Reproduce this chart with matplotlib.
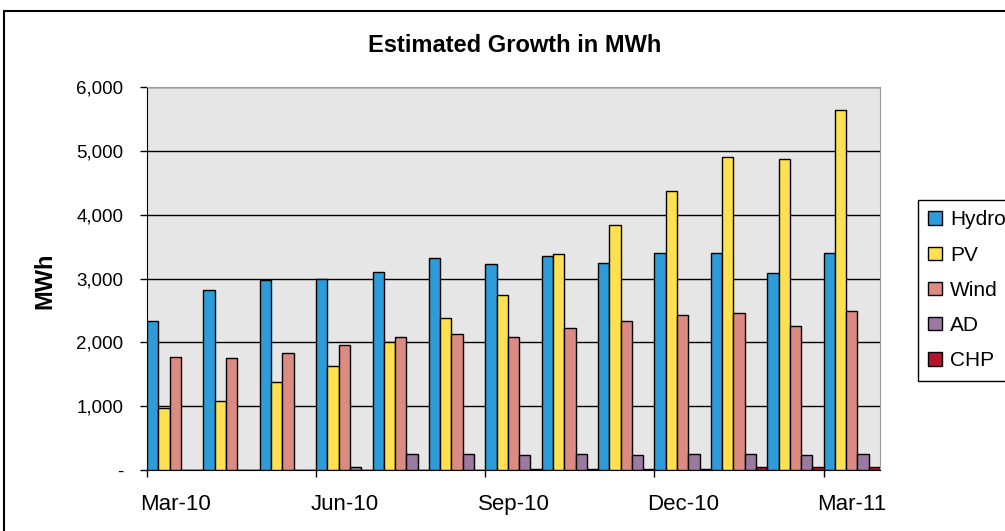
import numpy as np
import matplotlib
matplotlib.use("Agg")
import matplotlib.pyplot as plt
from matplotlib.patches import Rectangle
from matplotlib.ticker import FuncFormatter

# data (MWh per month)
months = ["Mar-10", "Apr-10", "May-10", "Jun-10", "Jul-10", "Aug-10", "Sep-10",
          "Oct-10", "Nov-10", "Dec-10", "Jan-11", "Feb-11", "Mar-11"]
hydro = [2340, 2820, 2975, 3000, 3100, 3325, 3230, 3355, 3250, 3400, 3400, 3080, 3400]
pv = [970, 1085, 1375, 1625, 2000, 2385, 2745, 3380, 3840, 4375, 4900, 4875, 5640]
wind = [1775, 1750, 1830, 1960, 2080, 2135, 2080, 2232, 2338, 2435, 2465, 2262, 2490]
ad = [0, 0, 0, 50, 250, 250, 230, 250, 230, 250, 250, 230, 250]
chp = [0, 0, 0, 0, 0, 0, 15, 15, 15, 15, 50, 50, 50]

series = ["Hydro", "PV", "Wind", "AD", "CHP"]
colors = ["#2f9cda", "#fee050", "#dc8b82", "#9c79a0", "#b41430"]

plt.rcParams['font.family'] = ['Liberation Sans', 'DejaVu Sans']

fig = plt.figure(figsize=(10.05, 5.31), dpi=100)
ax = fig.add_axes([147 / 1005, 1 - 470 / 531, (880 - 147) / 1005, (470 - 87) / 531])

# Plot Data
x = np.arange(len(months))
w = 0.2
for k, (name, vals, col) in enumerate(zip(series, [hydro, pv, wind, ad, chp], colors)):
    ax.bar(x + k * w, vals, width=w, align='edge', color=col, edgecolor='black',
           linewidth=1, label=name, zorder=3)

# General Parameters
ax.set_facecolor('#e6e6e6')
ax.set_xlim(0, len(months))
ax.set_ylim(0, 6000)
for s in ['top', 'right']:
    ax.spines[s].set_color('#9a9a9a')
for s in ['left', 'bottom']:
    ax.spines[s].set_color('black')
ax.yaxis.grid(True, color='black', lw=1, zorder=1)

# X Axis
ax.set_xticks(np.arange(0, len(months) + 1, 3))
ax.set_xticklabels([])
ax.tick_params(axis='x', which='major', direction='out', length=5, width=1)
ax.set_xticks(x[::3] + 0.5, minor=True)
ax.set_xticklabels(months[::3], minor=True, fontsize=16)
ax.tick_params(axis='x', which='minor', length=0, pad=17)

# Y Axis
ax.set_yticks(np.arange(0, 6001, 1000))
ax.yaxis.set_major_formatter(FuncFormatter(lambda v, p: '-' if v == 0 else f'{int(v):,}'))
ax.tick_params(axis='y', direction='out', length=5, width=1, labelsize=13.5, pad=12)

fig.text(515 / 1005, 1 - 45 / 531, 'Estimated Growth in MWh', ha='center', va='center',
         fontsize=17, fontweight='bold')
fig.text(45 / 1005, 1 - 281 / 531, 'MWh', ha='center', va='center', rotation=90,
         fontsize=17, fontweight='bold')

leg = fig.legend(loc='upper left', bbox_to_anchor=(918 / 1005, 1 - 200 / 531),
                 bbox_transform=fig.transFigure, borderaxespad=0, fontsize=15,
                 handlelength=0.65, handleheight=0.6, handletextpad=0.4,
                 labelspacing=0.78, fancybox=False, framealpha=1, borderpad=0.5)
leg.get_frame().set_edgecolor('black')
leg.get_frame().set_linewidth(1)

# outer chart border (runs off the right and bottom edges)
top = 1 - 11 / 531
fig.patches.append(Rectangle((4 / 1005, -0.2), 1.5, top + 0.2, fill=False,
                             edgecolor='black', lw=1.5, transform=fig.transFigure))

fig.savefig('out.png', dpi=100)
